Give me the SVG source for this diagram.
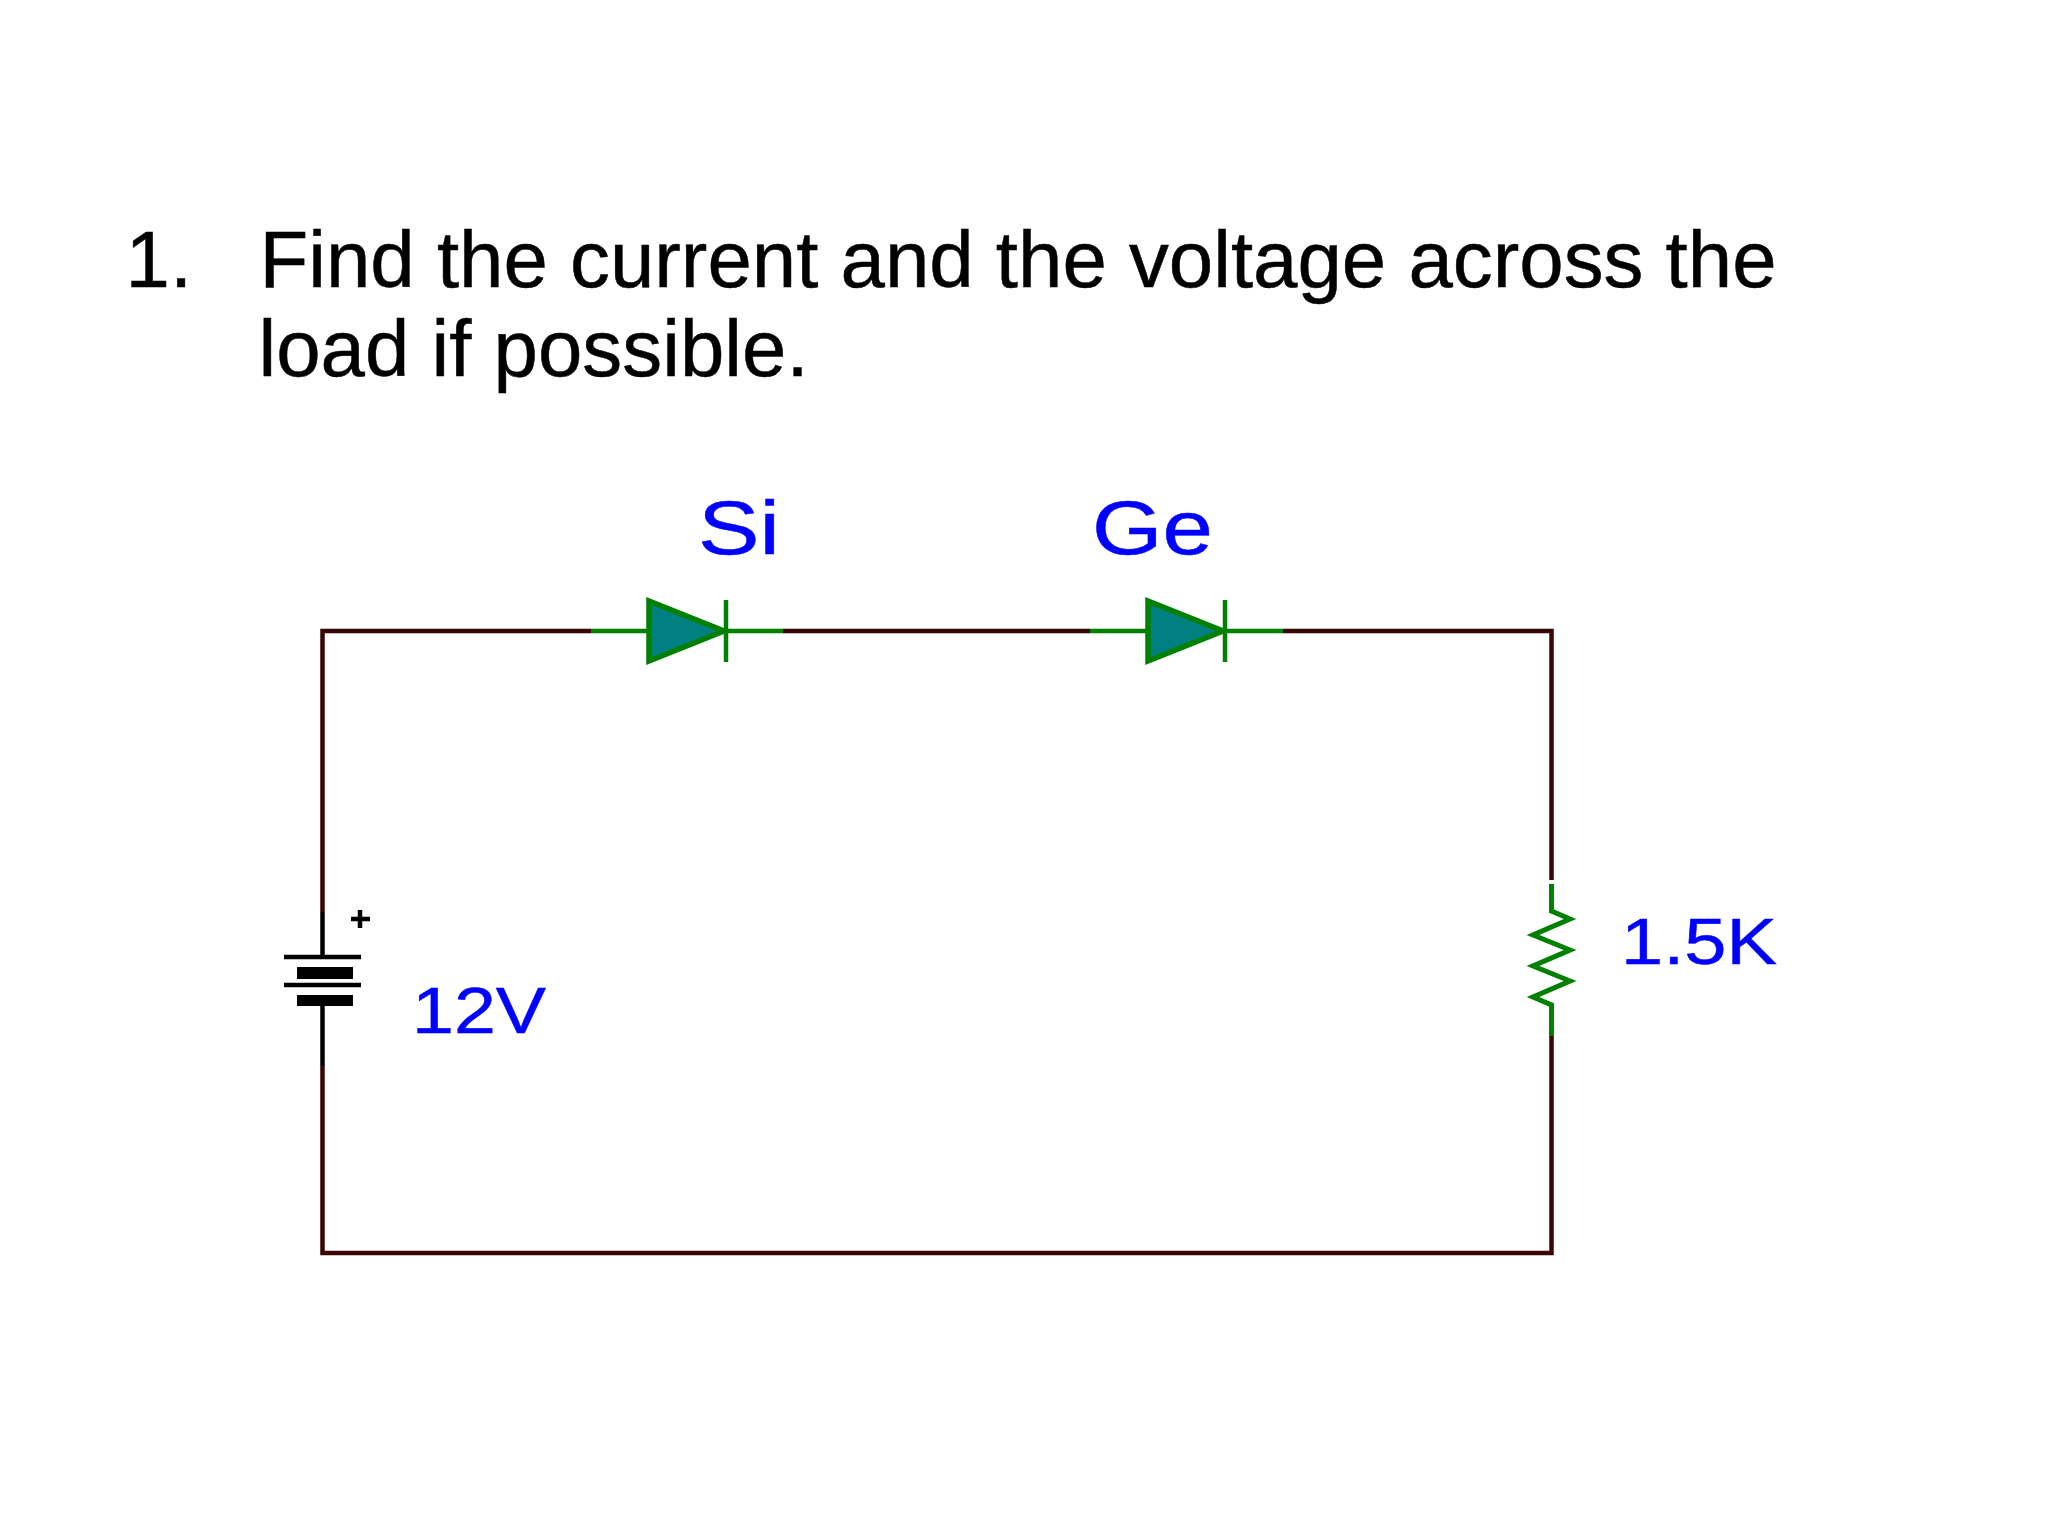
<svg xmlns="http://www.w3.org/2000/svg" width="2048" height="1536" viewBox="0 0 2048 1536">
<style>
.title{font-family:"Liberation Sans",Arial,sans-serif;font-size:79.8px;fill:#000;stroke:#000;stroke-width:.5}
.lbl{font-family:"Liberation Sans",Arial,sans-serif;fill:#0000ff;stroke:#0000ff;stroke-width:.5}
.wire{stroke:#3a0505;stroke-width:4.500;fill:none}
.g{stroke:#008000;stroke-width:4.500;fill:none}
.r{stroke:#008000;stroke-width:5;fill:none}
.tri{stroke:#008000;stroke-width:5.500;fill:#008080}
.k{stroke:#000;fill:none}
</style>
<rect width="2048" height="1536" fill="#fff"/>
<g id="title">
<text class="title" x="125.500" y="287">1.</text>
<text class="title" x="259.500" y="287">Find the current and the voltage across the</text>
<text class="title" x="258.500" y="376">load if possible.</text>
</g>
<g id="connectors">
<path class="wire" d="M591 631H322.500V912"/>
<path class="wire" d="M783 631H1090"/>
<path class="wire" d="M1283 631H1551.500V880"/>
<path class="wire" d="M1551.500 1036V1253H322.500V1066"/>
</g>
<g id="diode-si">
<path class="g" d="M591 631H648M726 631H783M726 600V662"/>
<path class="tri" d="M649 601L724 631L649 661Z"/>
<text class="lbl" font-size="76" x="698" y="554" textLength="82" lengthAdjust="spacingAndGlyphs">Si</text>
</g>
<g id="diode-ge">
<path class="g" d="M1090 631H1147M1225 631H1283M1225 600V662"/>
<path class="tri" d="M1148 601L1223 631L1148 661Z"/>
<text class="lbl" font-size="76" x="1092" y="554" textLength="121" lengthAdjust="spacingAndGlyphs">Ge</text>
</g>
<g id="battery">
<path class="k" stroke-width="4.500" d="M322.500 912V957M284 957H361M284 985H361M322.500 1006V1066"/>
<rect x="297" y="967" width="56" height="12" fill="#000"/>
<rect x="297" y="995" width="56" height="11" fill="#000"/>
<path class="k" stroke-width="4.500" d="M351 919H370M360 910V928"/>
<text class="lbl" font-size="64" x="412" y="1033" textLength="134" lengthAdjust="spacingAndGlyphs">12V</text>
</g>
<g id="resistor">
<path class="r" d="M1551.500 884V911L1570 919L1533 935L1570 950L1533 966L1570 981L1533 997L1551.500 1005V1036"/>
<text class="lbl" font-size="64" x="1621" y="964" textLength="156" lengthAdjust="spacingAndGlyphs">1.5K</text>
</g>
</svg>
